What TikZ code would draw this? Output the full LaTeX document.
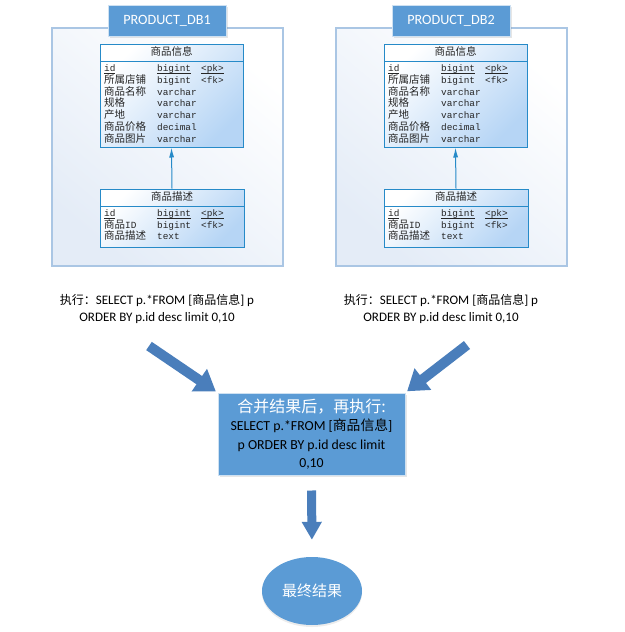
\documentclass[tikz,border=0pt]{standalone}
\usepackage{fontspec}
\setmainfont{Carlito}
\newfontfamily\cjk{Noto Sans CJK SC}
\newfontfamily\mono{Liberation Mono}
\usetikzlibrary{arrows.meta,shapes.geometric,shadows}

\definecolor{boxblue}{RGB}{91,155,213}
\definecolor{arrowblue}{RGB}{74,126,187}
\definecolor{tblline}{RGB}{38,138,200}
\definecolor{tblfill}{RGB}{182,213,245}
\definecolor{frameline}{RGB}{170,198,228}
\definecolor{framefill}{RGB}{228,236,247}

\def\zh{\cjk\fontsize{10.5}{11}\selectfont}
\def\zhs{\cjk\fontsize{12}{17.5}\selectfont}
\def\ul#1{\leavevmode\setbox0\hbox{#1}\rlap{\vrule height -1.2pt depth 2.4pt width \wd0}\box0}
\def\tblrow#1#2#3#4#5{%
  \node[cell] (#1a) at (104,#2) {#3};
  \node[cell] (#1b) at (157,#2) {#4};
  \node[cell] (#1c) at (201,#2) {#5};}

\begin{document}
\begin{tikzpicture}[x=1pt,y=-1pt,
  dbframe/.style={draw=frameline,line width=1.2pt,top color=white,bottom color=framefill,shading angle=-40,minimum width=231,minimum height=238,inner sep=0},
  dbtitle/.style={draw=white!70!boxblue,line width=1pt,fill=boxblue,text=white,font=\fontsize{14.2}{16}\selectfont,minimum width=118,minimum height=31,drop shadow={opacity=0.2,shadow xshift=1.5pt,shadow yshift=-1.5pt}},
  tbl/.style={draw=tblline,line width=1pt,top color=white,bottom color=tblfill,shading angle=45,inner sep=0},
  hdr/.style={font=\zh,inner sep=0,text=black!85},
  cell/.style={anchor=base west,inner sep=0,text=black!85,font=\mono\fontsize{9.4}{11}\selectfont},
  fk/.style={draw=tblline,line width=1pt,-{Latex[length=10pt,width=5pt]}},
  sql/.style={align=center,font=\fontsize{13}{17.5}\selectfont},
  bigarrow/.style={draw=arrowblue,line width=10pt,-{Triangle[length=20pt,width=26pt]}},
  merge/.style={fill=boxblue,draw=white!70!boxblue,line width=1pt,minimum width=187,minimum height=82,align=center,inner sep=0,font=\fontsize{13.8}{18.5}\selectfont,drop shadow={opacity=0.2,shadow xshift=1.5pt,shadow yshift=-1.5pt}},
  result/.style={ellipse,fill=boxblue,text=white,minimum width=100,minimum height=68,font=\cjk\fontsize{15}{18}\selectfont,drop shadow={opacity=0.15,shadow xshift=0pt,shadow yshift=-2pt}}]

  \useasboundingbox (0,0) rectangle (624,632);

  % the two databases
  \foreach \dx/\k in {0/1,284/2}{
    \begin{scope}[xshift=\dx]
      \node[dbframe] (db\k) at (167.5,147) {};
      \node[dbtitle] (title\k) at (167,20.5) {PRODUCT\_DB\k};

      % 商品信息
      \node[tbl,minimum width=143,minimum height=103] (info\k) at (171.5,95.5) {};
      \draw[tblline,line width=1pt] (100,61) -- (243,61);
      \node[hdr] (infoh\k) at (171.5,51.5) {商品信息};
      \tblrow{i\k-1}{71.5}{\ul{id}}{\ul{bigint}}{\ul{<pk>}}
      \tblrow{i\k-2}{83.3}{{\zh 所属店铺}}{bigint}{<fk>}
      \tblrow{i\k-3}{95.1}{{\zh 商品名称}}{varchar}{}
      \tblrow{i\k-4}{106.9}{{\zh 规格}}{varchar}{}
      \tblrow{i\k-5}{118.7}{{\zh 产地}}{varchar}{}
      \tblrow{i\k-6}{130.5}{{\zh 商品价格}}{decimal}{}
      \tblrow{i\k-7}{142.3}{{\zh 商品图片}}{varchar}{}

      % 商品描述
      \node[tbl,minimum width=144,minimum height=58] (desc\k) at (172,218) {};
      \draw[tblline,line width=1pt] (100,206) -- (244,206);
      \node[hdr] (desch\k) at (172,196) {商品描述};
      \tblrow{d\k-1}{216.5}{\ul{id}}{\ul{bigint}}{\ul{<pk>}}
      \tblrow{d\k-2}{228}{{\zh 商品}ID}{bigint}{<fk>}
      \tblrow{d\k-3}{239.5}{{\zh 商品描述}}{text}{}

      \draw[fk] (desc\k.north) -- (info\k.south);
    \end{scope}
  }

  % queries
  \node[sql] (sql1) at (157,309) {{\zhs 执行：}SELECT p.*FROM [{\zhs 商品信息}] p\\ORDER BY p.id desc limit 0,10};
  \node[sql] (sql2) at (441,309) {{\zhs 执行：}SELECT p.*FROM [{\zhs 商品信息}] p\\ORDER BY p.id desc limit 0,10};

  \node[merge] (merge) at (311.5,434) {{\cjk\fontsize{16}{18}\selectfont\color{white}合并结果后，再执行:}\\SELECT p.*FROM [{\cjk 商品信息}]\\p ORDER BY p.id desc limit\\0,10};

  \node[result] (result) at (312,591) {最终结果};

  \coordinate (a1) at (149,346);
  \coordinate (a2) at (467,345);
  \draw[bigarrow,shorten >=2pt] (a1) -- (merge.north west);
  \draw[bigarrow,shorten >=2pt] (a2) -- (merge.north east);
  \draw[bigarrow,line width=9pt,-{Triangle[length=18pt,width=19pt]},shorten <=15pt,shorten >=17pt] (merge.south) -- (result.north);
\end{tikzpicture}
\end{document}
